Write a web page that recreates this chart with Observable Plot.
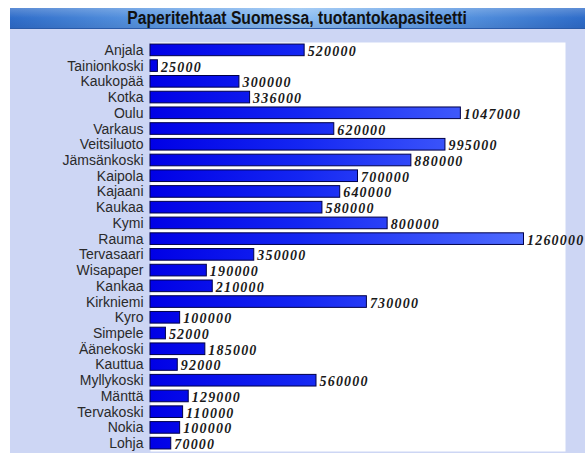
<!DOCTYPE html>
<html><head><meta charset="utf-8">
<script src="https://cdn.jsdelivr.net/npm/d3@7"></script>
<script src="https://cdn.jsdelivr.net/npm/@observablehq/plot@0.6"></script>
<style>
html,body{margin:0;padding:0;background:#fff;}
#wrap{position:relative;width:585px;height:453px;overflow:hidden;}
#title{position:absolute;left:10px;top:8px;width:575px;height:20px;
 border-bottom:1px solid #2a5aa8;
 background:linear-gradient(to bottom,rgba(255,255,255,0.22),rgba(255,255,255,0) 50%,rgba(0,0,40,0.08)),
 linear-gradient(to right,#2e6cc9 0%,#5b98e2 25%,#8fc0f3 50%,#5b98e2 75%,#2e6cc9 100%);
 text-align:center;}
#title span{display:inline-block;transform:scaleX(0.87);transform-origin:center;
 font-family:"Liberation Sans",Arial,sans-serif;font-weight:bold;font-size:18px;line-height:20px;color:#111;white-space:nowrap;}
#panel{position:absolute;left:10px;top:29px;width:575px;height:424px;background:#cdd6f4;}
#chart{position:absolute;left:0;top:29px;line-height:0;}
</style></head>
<body><div id="wrap"><div id="title"><span>Paperitehtaat Suomessa, tuotantokapasiteetti</span></div><div id="panel"></div><div id="chart"></div></div>
<script>
const mills = ["Anjala","Tainionkoski","Kaukopää","Kotka","Oulu","Varkaus","Veitsiluoto","Jämsänkoski","Kaipola","Kajaani","Kaukaa","Kymi","Rauma","Tervasaari","Wisapaper","Kankaa","Kirkniemi","Kyro","Simpele","Äänekoski","Kauttua","Myllykoski","Mänttä","Tervakoski","Nokia","Lohja"];
const capacity = [520000,25000,300000,336000,1047000,620000,995000,880000,700000,640000,580000,800000,1260000,350000,190000,210000,730000,100000,52000,185000,92000,560000,129000,110000,100000,70000];
const data = mills.map((m,i)=>({mill:m, value:capacity[i]}));

const defs = () => {
  const d = d3.create("svg:defs");
  const g = d.append("linearGradient").attr("id","barGrad").attr("gradientUnits","userSpaceOnUse")
    .attr("x1",150).attr("x2",525).attr("y1",0).attr("y2",0);
  g.append("stop").attr("offset","0%").attr("stop-color","#0000e6");
  g.append("stop").attr("offset","40%").attr("stop-color","#1426f2");
  g.append("stop").attr("offset","100%").attr("stop-color","#4f6cff");
  return d.node();
};

const chart = Plot.plot({
  width: 585, height: 424,
  marginLeft: 150, marginRight: 20, marginTop: 13, marginBottom: 2,
  style: {background: "transparent", overflow: "visible"},
  x: {domain: [0, 1400000], axis: null},
  y: {domain: mills, paddingInner: 0.26, paddingOuter: 0.13, round: false, axis: null},
  marks: [
    defs,
    Plot.frame({fill: "white", stroke: "none"}),
    Plot.barX(data, {x: "value", y: "mill", fill: "url(#barGrad)", stroke: "#00004a", strokeWidth: 1}),
    Plot.text(data, {x: 0, y: "mill", text: "mill", textAnchor: "end", dx: -7, fill: "#2a2a2a",
      fontFamily: "Liberation Sans, Arial, sans-serif", fontSize: 14}),
    Plot.text(data, {x: "value", y: "mill", text: d => String(d.value), textAnchor: "start", dx: 3, dy: 1, fill: "#1a1a1a",
      fontFamily: "Liberation Serif, Times New Roman, serif", fontSize: 14, fontWeight: "bold", fontStyle: "italic"})
  ]
});
d3.select(chart).selectAll("g[aria-label=text]:last-of-type text").style("letter-spacing","1.2px");
document.getElementById("chart").appendChild(chart);
</script></body></html>
